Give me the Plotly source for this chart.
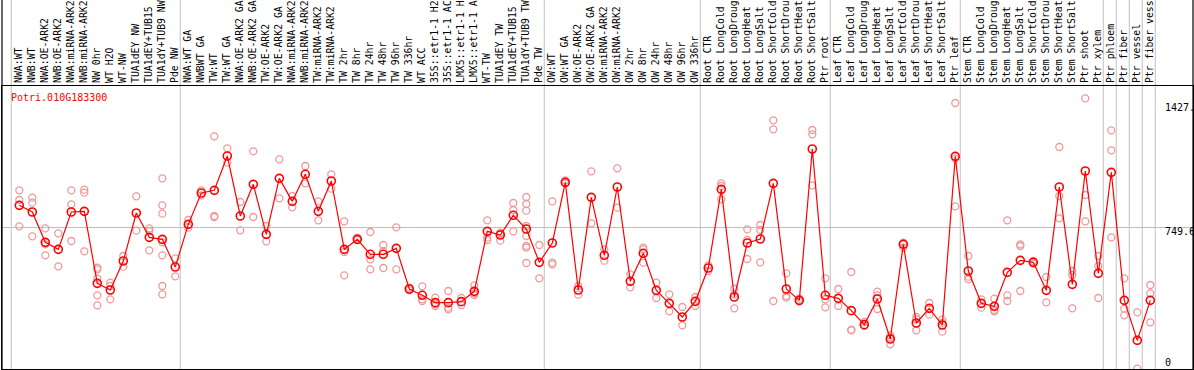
import plotly.graph_objects as go

labels = [
    "NWA:WT", "NWB:WT", "NWA:OE-ARK2", "NWB:OE-ARK2", "NWA:miRNA-ARK2", "NWB:miRNA-ARK2",
    "NW 0hr", "WT H2O", "WT-NW", "TUA1dEY NW", "TUA1dEY+TUB15", "TUA1dY+TUB9 NW", "Pde NW",
    "NWA:WT GA", "NWBWT GA", "TW:WT", "TW:WT GA", "NWA:OE-ARK2 GA", "NWB:OE-ARK2 GA",
    "TW:OE-ARK2", "TW:OE-ARK2 GA", "NWA:miRNA-ARK2", "NWB:miRNA-ARK2", "TW:miRNA-ARK2",
    "TW:miRNA-ARK2", "TW 2hr", "TW 8hr", "TW 24hr", "TW 48hr", "TW 96hr", "TW 336hr", "WT ACC",
    "35S::etr1-1 H2", "35S::etr1-1 AC", "LMX5::etr1-1 H", "LMX5::etr1-1 A", "WT-TW",
    "TUA1dEY TW", "TUA1dEY+TUB15", "TUA1dY+TUB9 TW", "Pde TW",
    "OW:WT", "OW:WT GA", "OW:OE-ARK2", "OW:OE-ARK2 GA", "OW:miRNA-ARK2", "OW:miRNA-ARK2",
    "OW 2hr", "OW 8hr", "OW 24hr", "OW 48hr", "OW 96hr", "OW 336hr",
    "Root CTR", "Root LongCold", "Root LongDroug", "Root LongHeat", "Root LongSalt",
    "Root ShortCold", "Root ShortDrou", "Root ShortHeat", "Root ShortSalt", "Ptr root",
    "Leaf CTR", "Leaf LongCold", "Leaf LongDroug", "Leaf LongHeat", "Leaf LongSalt",
    "Leaf ShortCold", "Leaf ShortDrou", "Leaf ShortHeat", "Leaf ShortSalt", "Ptr leaf",
    "Stem CTR", "Stem LongCold", "Stem LongDroug", "Stem LongHeat", "Stem LongSalt",
    "Stem ShortCold", "Stem ShortDrou", "Stem ShortHeat", "Stem ShortSalt", "Ptr shoot",
    "Ptr xylem", "Ptr phloem", "Ptr fiber", "Ptr vessel", "Ptr fiber vess",
]

means = [
    867.0, 831.7, 671.0, 633.9, 831.7, 835.2, 453.8, 418.5, 572.1, 826.4, 697.5, 686.9, 540.4,
    766.4, 932.4, 946.5, 1128.4, 810.5, 978.3, 713.4, 1010.1, 888.2, 1031.3, 835.2, 995.9,
    633.9, 686.9, 607.5, 607.5, 639.2, 423.8, 390.3, 351.4, 351.4, 356.7, 411.4, 729.3,
    709.9, 814.1, 741.7, 565.1,
    667.5, 988.9, 418.5, 909.4, 602.2, 964.2, 464.4, 612.8, 416.7, 347.9, 275.5, 358.5,
    535.1, 951.8, 381.4, 667.5, 688.7, 983.6, 423.8, 363.8, 1165.5, 390.3,
    374.4, 309.0, 234.9, 370.8, 158.9, 660.4, 243.7, 321.4, 233.1, 1126.6,
    519.2, 347.9, 332.0, 512.1, 575.7, 565.1, 416.7, 964.2, 448.5, 1048.9, 506.8,
    1041.8, 363.8, 151.9, 363.8,
]

replicates = [
    [946.5, 895.3, 755.8], [907.6, 881.2, 702.8], [745.2, 660.4, 602.2], [718.7, 543.9],
    [946.5, 872.3, 678.1], [950.0, 934.1, 623.3], [536.8, 528.0, 478.6, 390.3, 337.3],
    [457.4, 439.7, 369.1], [598.6, 542.1], [914.7, 732.8], [745.2, 731.1, 628.6],
    [1010.1, 867.0, 822.9, 671.0, 602.2, 439.7, 395.6], [586.3, 490.9],
    [789.4, 748.7], [946.5, 920.0], [1232.6, 810.5, 805.2], [1169.0, 1093.1], [884.7, 734.6],
    [1153.1, 805.2], [757.6, 676.3], [1110.7, 904.1], [916.5, 856.5], [1075.4, 983.6],
    [888.2, 787.6], [1031.3, 955.3], [782.3, 619.8, 496.2], [695.8, 683.4],
    [725.8, 581.0, 528.0], [656.9, 625.1, 535.1], [750.5, 528.0], [430.9, 417.0],
    [438.0, 369.1, 360.2], [377.9, 342.6, 333.7], [413.2, 324.9, 316.1], [376.1, 339.1],
    [443.2, 400.8, 392.0], [787.6, 695.8, 683.4], [722.2, 716.9, 679.9], [879.4, 842.3, 729.3],
    [911.2, 874.1, 838.8, 757.6, 704.6, 651.6, 642.8, 561.5], [656.9, 480.3],
    [888.2, 563.3, 554.5], [999.5, 983.6], [439.7, 393.8], [1047.1, 771.7], [633.9, 573.9],
    [1063.0, 854.7], [501.5, 432.6], [642.8, 633.9, 563.3], [457.4, 376.1], [395.6, 305.5],
    [328.5, 231.4], [381.4, 333.7],
    [549.2, 519.2], [983.6, 969.5, 898.8], [425.6, 395.6, 321.4], [739.9, 683.4, 582.8],
    [762.8, 736.4, 565.1], [1317.3, 1269.6, 360.2], [506.8, 386.7, 377.9], [372.6, 356.7],
    [1266.1, 1243.2, 973.0], [480.3, 369.1, 326.7],
    [423.8, 333.7], [513.9, 208.4, 204.8], [249.0, 227.8], [409.7, 390.3, 317.9],
    [178.4, 166.0, 130.7], [669.3, 642.8], [275.5, 263.1, 204.8], [349.6, 287.8],
    [261.3, 245.5, 197.8], [1409.1, 1114.2, 861.7],
    [598.6, 489.1, 475.0], [369.1, 324.9], [372.6, 312.6, 305.5], [787.6, 390.3, 360.2],
    [660.4, 651.6, 413.2], [572.1, 558.0], [487.4, 353.2], [1176.1, 916.5, 798.2],
    [519.2, 498.0, 321.4], [1433.9, 921.8, 782.3], [598.6, 545.6, 376.1],
    [1264.3, 1158.4, 697.5], [480.3, 319.6, 284.3], [300.2, 1.8], [445.0, 400.8, 247.2],
]

# index of first category in each group (separators drawn before these), plus end
group_starts = [0, 13, 41, 53, 63, 73, 84, 85, 86, 87, 88]

gene_id = "Potri.010G183300"
y_mid_value = 749.6
y_top = 1499.2
y_labels = [("1427.", 1427.0, -8), ("749.6", 749.6, -4), ("0", 0.0, 7)]

W, H = 1194, 370
ML, MR, MT, MB = 2, 1, 86, 1
x_lo, x_hi = -1.331, 90.285
FONT = "DejaVu Sans Mono"

xs = list(range(len(labels)))
rep_x, rep_y = [], []
for i, reps in enumerate(replicates):
    for v in reps:
        rep_x.append(i)
        rep_y.append(v)

fig = go.Figure()
fig.add_trace(go.Scatter(
    x=rep_x, y=rep_y, mode="markers",
    marker=dict(symbol="circle-open", size=7, color="#EE9A9A", line=dict(width=1.3)),
    hoverinfo="skip", showlegend=False,
))
fig.add_trace(go.Scatter(
    x=xs, y=means, mode="lines+markers",
    line=dict(color="#FF0000", width=1.2),
    marker=dict(symbol="circle-open", size=8, color="#FF0000", line=dict(width=1.6)),
    showlegend=False,
))

plot_h = H - MT - MB
top_paper = 1 + MT / plot_h


def to_paper(xv):
    return (xv - x_lo) / (x_hi - x_lo)


shapes = []
for k in group_starts:
    px = to_paper(k - 0.62)
    shapes.append(dict(type="line", xref="paper", yref="paper", x0=px, x1=px,
                       y0=0, y1=top_paper, line=dict(color="#C0C0C0", width=1), layer="below"))
shapes.append(dict(type="line", xref="paper", yref="y", x0=0, x1=1, y0=y_mid_value, y1=y_mid_value,
                   line=dict(color="#C0C0C0", width=1), layer="below"))
for px in (0, 1):
    shapes.append(dict(type="line", xref="paper", yref="paper", x0=px, x1=px,
                       y0=0, y1=top_paper, line=dict(color="black", width=1.2)))

annotations = [dict(
    text=gene_id, xref="paper", yref="paper", x=(9 - ML) / (W - ML - MR), y=1 - 11 / plot_h,
    xanchor="left", yanchor="middle", showarrow=False,
    font=dict(family=FONT, size=10, color="#FF0000"),
)]
for txt, val, shift in y_labels:
    annotations.append(dict(
        text=txt, xref="paper", yref="y", x=(1163 - ML) / (W - ML - MR), y=val, yshift=shift,
        xanchor="left", yanchor="middle", showarrow=False,
        font=dict(family=FONT, size=10, color="black"),
    ))

fig.update_layout(
    width=W, height=H,
    margin=dict(l=ML, r=MR, t=MT, b=MB, pad=0),
    paper_bgcolor="white", plot_bgcolor="white",
    shapes=shapes, annotations=annotations,
    xaxis=dict(
        range=[x_lo, x_hi], side="top", tickmode="array", tickvals=xs, ticktext=labels,
        tickangle=-90, tickfont=dict(family=FONT, size=9.8, color="black"),
        showgrid=False, zeroline=False, ticks="", showline=True, linecolor="black",
        linewidth=1.2, mirror=True, automargin=False,
    ),
    yaxis=dict(
        range=[0, y_top], showticklabels=False, showgrid=False, zeroline=False, ticks="",
        showline=True, linecolor="black", linewidth=1.2, mirror=True, automargin=False,
    ),
)

fig.write_html("out.html", config={"displayModeBar": False},
               post_script="document.body.style.margin='0px';")
